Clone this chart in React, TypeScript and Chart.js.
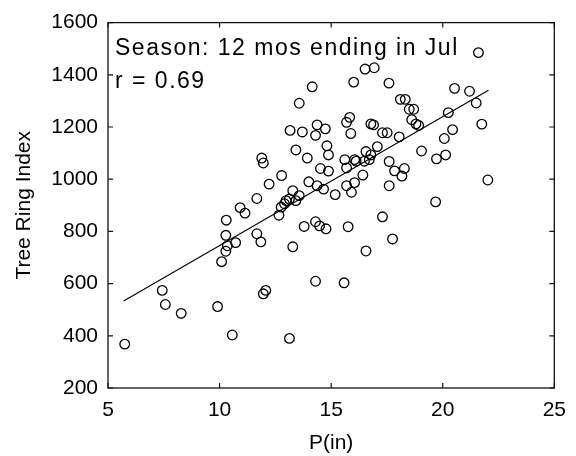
import React, { useEffect, useRef } from "react";
import { Chart, registerables } from "chart.js";

Chart.register(...registerables);

// Precipitation (in) for each year
const precipIn = [
  5.75, 7.43, 7.57, 8.28, 9.91, 10.57, 10.09, 10.28, 10.35, 10.28,
  10.72, 10.3, 10.92, 11.14, 11.67, 11.67, 11.85, 11.96, 12.07, 12.22,
  11.89, 11.96, 12.78, 13.13, 13.28, 12.66, 12.76, 12.91, 12.98, 13.13,
  13.28, 13.16, 13.42, 13.57, 14.15, 16.01, 16.52, 16.93, 17.59, 21.6,
  20.53, 21.2, 21.5, 21.75, 22.02, 18.1, 18.32, 18.5, 18.7, 18.61,
  18.8, 18.92, 20.25, 20.44, 20.07, 19.05, 19.72, 20.13, 18.05, 17.3,
  17.51, 16.78, 16.9, 15.69, 15.83, 15.88, 13.71, 14.3, 14.37, 14.74,
  13.93, 14.81, 14.88, 14.52, 14.88, 15.61, 16.05, 15.69, 16.56, 16.78,
  16.71, 16.49, 17.07, 17.6, 17.84, 18.28, 18.17, 17.6, 19.68, 17.3,
  16.42, 16.05, 15.69, 15.91, 15.18, 14.66, 14.0, 14.37, 13.42, 15.76,
  13.79, 14.3, 14.48, 14.77, 16.56, 17.75, 14.3, 15.58, 13.57, 16.12,
];

// Tree ring index for each year
const ringIndex = [
  368, 574, 520, 486, 512, 403, 684, 724, 745, 785,
  757, 843, 891, 870, 926, 791, 760, 561, 574, 981,
  1081, 1062, 1014, 390, 741, 862, 893, 906, 918, 924,
  956, 1187, 1112, 1291, 1354, 1372, 1422, 1427, 1368, 1485,
  1348, 1337, 1292, 1211, 997, 1306, 1306, 1268, 1268, 1228,
  1212, 1206, 1255, 1190, 1156, 1108, 1078, 1093, 1162, 1178,
  1178, 1212, 1208, 1218, 1237, 1175, 1181, 1168, 1208, 1193,
  1081, 1128, 1093, 1041, 1031, 1075, 1075, 1043, 1106, 1093,
  1075, 1069, 1125, 1068, 1032, 1041, 1012, 975, 913, 856,
  1016, 987, 975, 950, 941, 962, 990, 975, 918, 818,
  819, 837, 821, 810, 725, 771, 609, 603, 937, 1069,
];

// Least-squares fit line end points
const fitX = [5.7, 22.05];
const fitY = [533, 1341];

const xTicks = [5, 10, 15, 20, 25];
const yTicks = [200, 400, 600, 800, 1000, 1200, 1400, 1600];

const seasonLabel = "Season: 12 mos ending in Jul";
const rLabel = "r = 0.69";
const xTitle = "P(in)";
const yTitle = "Tree Ring Index";

const FONT = "'Liberation Sans', Arial, Helvetica, sans-serif";

export default function App() {
  const ref = useRef<HTMLCanvasElement | null>(null);

  useEffect(() => {
    document.body.style.margin = "0";
    const canvas = ref.current;
    if (!canvas) return;

    const boxPlugin = {
      id: "matlabBox",
      afterDatasetsDraw(chart: any) {
        const { ctx, chartArea } = chart;
        const { left, right, top, bottom } = chartArea;
        const xs = chart.scales.x;
        const ys = chart.scales.y;
        const tl = 5;
        ctx.save();
        ctx.strokeStyle = "#111";
        ctx.lineWidth = 1.3;
        ctx.strokeRect(left, top, right - left, bottom - top);
        ctx.lineWidth = 1.2;
        ctx.beginPath();
        xTicks.forEach((v) => {
          const px = xs.getPixelForValue(v);
          ctx.moveTo(px, bottom);
          ctx.lineTo(px, bottom - tl);
          ctx.moveTo(px, top);
          ctx.lineTo(px, top + tl);
        });
        yTicks.forEach((v) => {
          const py = ys.getPixelForValue(v);
          ctx.moveTo(left, py);
          ctx.lineTo(left + tl, py);
          ctx.moveTo(right, py);
          ctx.lineTo(right - tl, py);
        });
        ctx.stroke();

        ctx.fillStyle = "#000";
        ctx.font = `23px ${FONT}`;
        (ctx as any).letterSpacing = "1.5px";
        ctx.textAlign = "left";
        ctx.textBaseline = "alphabetic";
        ctx.fillText(seasonLabel, left + 7, top + 32);
        ctx.fillText(rLabel, left + 7, top + 65);
        ctx.restore();
      },
    };

    const tickFont = { family: FONT, size: 21 };

    const chart = new Chart(canvas, {
      type: "scatter",
      data: {
        datasets: [
          {
            type: "scatter",
            data: precipIn.map((x, i) => ({ x, y: ringIndex[i] })),
            pointStyle: "circle",
            pointRadius: 4.8,
            borderColor: "#000",
            backgroundColor: "rgba(0,0,0,0)",
            borderWidth: 1.3,
          },
          {
            type: "line",
            data: fitX.map((x, i) => ({ x, y: fitY[i] })),
            borderColor: "#000",
            borderWidth: 1.1,
            pointRadius: 0,
            fill: false,
            tension: 0,
          } as any,
        ],
      },
      options: {
        animation: false,
        responsive: false,
        maintainAspectRatio: false,
        layout: { padding: { top: 15, right: 12, left: 0, bottom: 0 } },
        plugins: {
          legend: { display: false },
          tooltip: { enabled: false },
        },
        scales: {
          x: {
            type: "linear",
            min: 5,
            max: 25,
            afterBuildTicks: (s: any) => {
              s.ticks = xTicks.map((v) => ({ value: v }));
            },
            afterFit: (s: any) => {
              s.height = 68;
            },
            grid: { display: false, drawTicks: false },
            border: { display: false },
            ticks: {
              color: "#000",
              font: tickFont,
              padding: 10,
              maxRotation: 0,
              autoSkip: false,
              callback: (v: any) => String(v),
            },
            title: {
              display: true,
              text: xTitle,
              color: "#000",
              font: tickFont,
              padding: { top: 0, bottom: 0 },
            },
          },
          y: {
            type: "linear",
            min: 200,
            max: 1600,
            afterBuildTicks: (s: any) => {
              s.ticks = yTicks.map((v) => ({ value: v }));
            },
            afterFit: (s: any) => {
              s.width = 108;
            },
            grid: { display: false, drawTicks: false },
            border: { display: false },
            ticks: {
              color: "#000",
              font: tickFont,
              padding: 10,
              autoSkip: false,
              callback: (v: any) => String(v),
            },
            title: {
              display: true,
              text: yTitle,
              color: "#000",
              font: tickFont,
              padding: { top: 12, bottom: 0 },
            },
          },
        },
      },
      plugins: [boxPlugin],
    });

    return () => chart.destroy();
  }, []);

  return (
    <canvas
      ref={ref}
      width={576}
      height={456}
      style={{ display: "block", background: "#fff" }}
    />
  );
}
